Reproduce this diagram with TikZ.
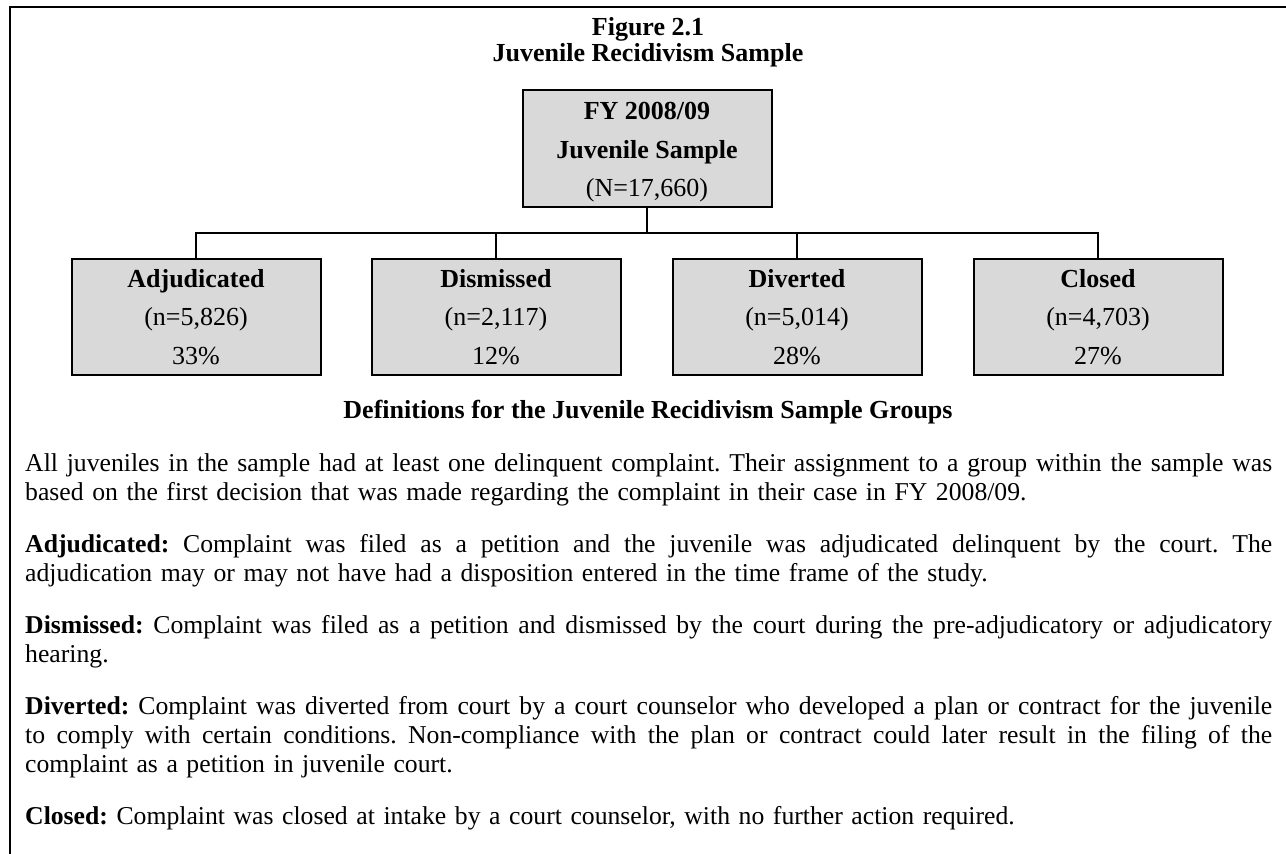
\documentclass[tikz,border=0pt]{standalone}
\usepackage{fontspec}
\setmainfont{Liberation Serif}
\definecolor{boxgray}{RGB}{217,217,217}
\newcommand\jline[1]{\leavevmode\hbox to 1247pt{\spaceskip=.25em plus 1fil minus .08em\relax #1}}
\frenchspacing
\begin{document}
\begin{tikzpicture}[x=1pt,y=-1pt,
  box/.style={draw=black, line width=2pt, fill=boxgray, minimum width=249pt, minimum height=116pt, align=center, inner sep=0pt, font=\fontsize{26}{38.5}\selectfont},
  boxtext/.style={align=center, inner sep=0pt, font=\fontsize{26}{38.5}\selectfont},
  conn/.style={line width=1.6pt},
  frame/.style={line width=2.2pt},
  para/.style={anchor=base west, inner sep=0pt, text width=1247pt, align=left, font=\fontsize{25.7}{29}\selectfont\frenchspacing},
  head/.style={anchor=base, inner sep=0pt, font=\fontsize{26}{26}\selectfont\bfseries}]
\useasboundingbox (0,0) rectangle (1286,854);
% frame
\coordinate (fr) at (1286,7);
\coordinate (fc) at (10,7);
\coordinate (fb) at (10,854);
\draw[frame] (fr) -- (fc) -- (fb);
% title
\node[head] (title1) at (648,35) {Figure 2.1};
\node[head] (title2) at (648,61) {Juvenile Recidivism Sample};
% boxes
\node[box, minimum height=117pt] (top) at (647,148.5) {};
\node[boxtext] (toptext) at (647,152.5) {\textbf{FY 2008/09}\\\textbf{Juvenile Sample}\\(N=17,660)};
\node[box] (adj) at (196,317) {\textbf{Adjudicated}\\(n=5,826)\\33\%};
\node[box] (dis) at (496,317) {\textbf{Dismissed}\\(n=2,117)\\12\%};
\node[box] (div) at (797,317) {\textbf{Diverted}\\(n=5,014)\\28\%};
\node[box] (clo) at (1098,317) {\textbf{Closed}\\(n=4,703)\\27\%};
% connectors
\coordinate (bus) at (647,233);
\draw[conn] (top.south) -- (bus);
\draw[conn] (adj.north) |- (bus) -| (clo.north);
\draw[conn] (dis.north) -- (dis.north |- bus);
\draw[conn] (div.north) -- (div.north |- bus);
% definitions
\node[head] (defh) at (648,418) {Definitions for the Juvenile Recidivism Sample Groups};
\node[para] (p1) at (25,471) {\jline{All juveniles in the sample had at least one delinquent complaint. Their assignment to a group within the sample was}\\based on the first decision that was made regarding the complaint in their case in FY 2008/09.};
\node[para] (p2) at (25,552) {\jline{\textbf{Adjudicated:} Complaint was filed as a petition and the juvenile was adjudicated delinquent by the court. The}\\adjudication may or may not have had a disposition entered in the time frame of the study.};
\node[para] (p3) at (25,633) {\jline{\textbf{Dismissed:} Complaint was filed as a petition and dismissed by the court during the pre-adjudicatory or adjudicatory}\\hearing.};
\node[para] (p4) at (25,714) {\jline{\textbf{Diverted:} Complaint was diverted from court by a court counselor who developed a plan or contract for the juvenile}\\\jline{to comply with certain conditions. Non-compliance with the plan or contract could later result in the filing of the}\\complaint as a petition in juvenile court.};
\node[para] (p5) at (25,824) {\textbf{Closed:} Complaint was closed at intake by a court counselor, with no further action required.};
\end{tikzpicture}
\end{document}
